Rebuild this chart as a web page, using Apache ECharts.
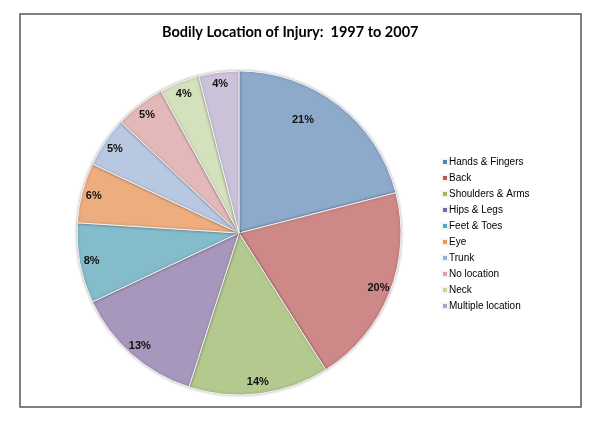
<!DOCTYPE html>
<html>
<head>
<meta charset="utf-8">
<script src="https://cdn.jsdelivr.net/npm/echarts@6/dist/echarts.min.js"></script>
<style>
html, body { margin: 0; padding: 0; background: #fff; }
#main { width: 600px; height: 430px; }
</style>
</head>
<body>
<div id="main"></div>
<script>
var categories = ['Hands & Fingers', 'Back', 'Shoulders & Arms', 'Hips & Legs', 'Feet & Toes',
	'Eye', 'Trunk', 'No location', 'Neck', 'Multiple location'];
var values = [21, 20, 14, 13, 8, 6, 5, 5, 4, 4];
var sliceColors = ['#8eaacb', '#cd8887', '#b4c98e', '#a797bd', '#84bccb',
	'#eead7f', '#b8c8e1', '#e2b8b8', '#d4e1bd', '#ccc3db'];
var legendColors = ['#4f81bd', '#c0504d', '#9bbb59', '#8064a2', '#4bacc6',
	'#f79646', '#95b3d7', '#e6a0a0', '#c3d69b', '#b3a2c7'];

function initPage() {
	var myChart = echarts.init(document.getElementById('main'));

	var pieData = categories.map(function (name, i) {
		return { name: name, value: values[i], itemStyle: { color: sliceColors[i] } };
	});
	var legendData = categories.map(function (name, i) {
		return { name: name, itemStyle: { color: legendColors[i] } };
	});
	var labelData = categories.map(function (name, i) {
		var item = { name: name + ' ', value: values[i] };
		// Excel nudged the first label towards the top
		if (i === 0) {
			item.label = { offset: [-28, 5] };
		}
		return item;
	});

	myChart.setOption({
		animation: false,
		title: {
			text: 'Bodily Location of Injury:  1997 to 2007',
			left: 157,
			top: 20,
			textStyle: {
				fontFamily: 'Lato',
				fontWeight: 'bold',
				fontSize: 14.5,
				color: '#000'
			}
		},
		legend: {
			orient: 'vertical',
			left: 436,
			top: 152,
			itemWidth: 6,
			itemHeight: 6,
			itemGap: 6,
			icon: 'rect',
			data: legendData,
			textStyle: {
				fontFamily: 'Liberation Sans',
				fontSize: 10,
				color: '#000',
				padding: [0, 0, 0, -4]
			}
		},
		graphic: [ {
			type: 'rect',
			shape: { x: 20, y: 14, width: 561, height: 393 },
			style: { fill: 'none', stroke: '#555', lineWidth: 1.5 }
		} ],
		series: [ {
			type: 'pie',
			center: [239, 233],
			radius: [0, 162],
			startAngle: 90,
			clockwise: true,
			data: pieData,
			silent: true,
			label: { show: false },
			labelLine: { show: false },
			itemStyle: {
				borderColor: '#f4f4f4',
				borderWidth: 1,
				shadowColor: 'rgba(0,0,0,0.3)',
				shadowBlur: 3
			}
		}, {
			// transparent ring only to place the percent labels near the rim
			type: 'pie',
			center: [239, 233],
			radius: [132, 162],
			startAngle: 90,
			clockwise: true,
			silent: true,
			legendHoverLink: false,
			data: labelData,
			itemStyle: { color: 'rgba(0,0,0,0)' },
			label: {
				show: true,
				position: 'inside',
				formatter: '{c}%',
				fontFamily: 'Liberation Sans',
				fontWeight: 'bold',
				fontSize: 11,
				color: '#111'
			},
			labelLine: { show: false }
		} ]
	});
}

initPage();
</script>
</body>
</html>
